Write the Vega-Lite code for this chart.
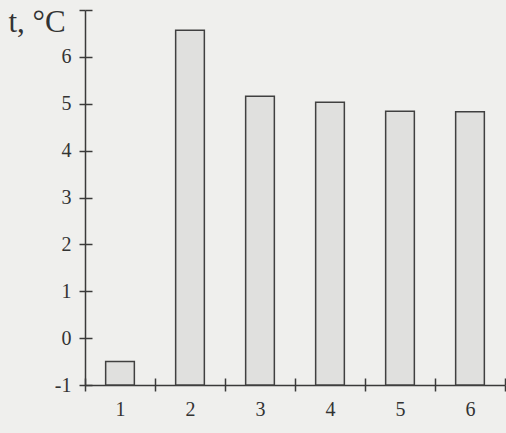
{
  "$schema": "https://vega.github.io/schema/vega-lite/v6.json",
  "width": 420,
  "height": 375,
  "autosize": {"type": "none"},
  "padding": {"left": 85, "top": 10, "right": 1, "bottom": 48},
  "background": "#efefed",
  "config": {
    "view": {"stroke": null},
    "axis": {"labelFont": "Liberation Serif", "titleFont": "Liberation Serif", "labelColor": "#333333", "titleColor": "#333333", "domainColor": "#3a3a3a", "tickColor": "#3a3a3a", "grid": false}
  },
  "data": {"values": [
    {"n": "1", "t": -0.5},
    {"n": "2", "t": 6.57},
    {"n": "3", "t": 5.16},
    {"n": "4", "t": 5.03},
    {"n": "5", "t": 4.84},
    {"n": "6", "t": 4.83}
  ]},
  "layer": [
    {
      "mark": {"type": "bar", "width": {"band": 0.41}, "fill": "#e0e0de", "stroke": "#404040", "strokeWidth": 1.5},
      "encoding": {
        "x": {"field": "n", "type": "ordinal", "scale": {"paddingInner": 0, "paddingOuter": 0},
          "axis": {"title": null, "labelAngle": 0, "labelFontSize": 20, "labelPadding": 8, "tickBand": "extent", "tickSize": 6, "tickWidth": 1.5, "domainWidth": 1.5}},
        "y": {"field": "t", "type": "quantitative", "scale": {"domain": [-1, 7], "zero": false, "nice": false},
          "axis": {"values": [-1, 0, 1, 2, 3, 4, 5, 6, 7], "labelExpr": "datum.value == 7 ? '' : replace(datum.label, '−', '-')", "labelFontSize": 20, "labelPadding": 8, "tickSize": 6, "tickWidth": 1.5, "domainWidth": 1.5,
            "title": "t, °C", "titleAngle": 0, "titleFontSize": 31, "titleFontWeight": "normal", "titleAlign": "left", "titleBaseline": "alphabetic", "titleX": -77, "titleY": 21}},
        "y2": {"datum": -1}
      }
    },
    {
      "mark": {"type": "bar", "opacity": 0},
      "encoding": {
        "x": {"field": "n", "type": "ordinal", "axis": {"orient": "bottom", "title": null, "labels": false, "domain": false, "tickBand": "extent", "tickSize": -7, "tickWidth": 1.5}},
        "y": {"field": "t", "type": "quantitative", "axis": {"orient": "left", "title": null, "labels": false, "domain": false, "values": [-1, 0, 1, 2, 3, 4, 5, 6, 7], "tickSize": -7, "tickWidth": 1.5}},
        "y2": {"datum": -1}
      }
    }
  ],
  "resolve": {"axis": {"x": "independent", "y": "independent"}}
}
